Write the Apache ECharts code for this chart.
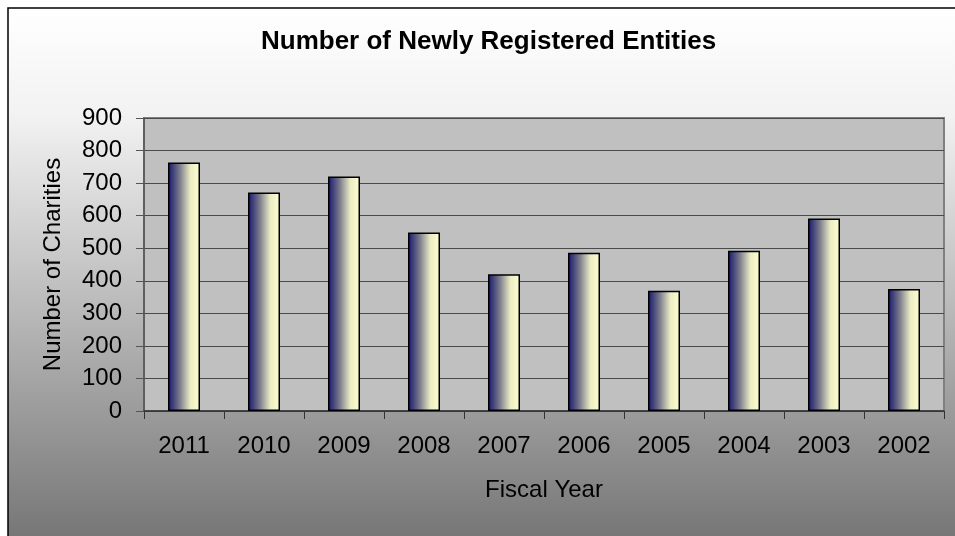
<!DOCTYPE html>
<html>
<head>
<meta charset="utf-8">
<script src="https://cdn.jsdelivr.net/npm/echarts@6/dist/echarts.min.js"></script>
<style>
  html, body { margin: 0; padding: 0; background: #fff; }
  #chart { width: 955px; height: 536px; }
</style>
</head>
<body>
<div id="chart"></div>
<script>
// fiscal years (left to right as in the picture)
var years = ["2011", "2010", "2009", "2008", "2007", "2006", "2005", "2004", "2003", "2002"];
// newly registered charities per year
var charities = [763, 671, 720, 548, 420, 486, 369, 492, 591, 375];

var font = "'Liberation Sans', Arial, sans-serif";

// bar fill: navy on the left fading to pale yellow on the right
var barFill = new echarts.graphic.LinearGradient(0, 0, 1, 0, [
  { offset: 0, color: "#16166e" },
  { offset: 0.35, color: "#76768a" },
  { offset: 0.7, color: "#ececc4" },
  { offset: 1, color: "#ffffd2" }
]);

var option = {
  backgroundColor: "#fff",
  animation: false,
  graphic: [
    {
      type: "rect",
      z: -10,
      shape: { x: 8, y: 8, width: 960, height: 540 },
      style: {
        fill: new echarts.graphic.LinearGradient(0, 0, 0, 1, [
          { offset: 0, color: "#ffffff" },
          { offset: 0.2, color: "#f2f2f2" },
          { offset: 1, color: "#737373" }
        ]),
        stroke: "#000",
        lineWidth: 1.5
      }
    }
  ],
  title: {
    text: "Number of Newly Registered Entities",
    left: 256,
    top: 24,
    textStyle: {
      color: "#000",
      fontFamily: font,
      fontSize: 26,
      fontWeight: "bold"
    }
  },
  grid: {
    show: true,
    left: 144,
    right: 11,
    top: 118,
    bottom: 125,
    backgroundColor: "#c0c0c0",
    borderColor: "#808080",
    borderWidth: 2
  },
  xAxis: {
    type: "category",
    data: years,
    name: "Fiscal Year",
    nameLocation: "middle",
    nameGap: 67,
    nameTextStyle: { color: "#000", fontFamily: font, fontSize: 24 },
    axisLine: { lineStyle: { color: "#333", width: 1.5 } },
    axisTick: { show: true, length: 8, lineStyle: { color: "#333" } },
    axisLabel: { color: "#000", fontFamily: font, fontSize: 24, margin: 23 }
  },
  yAxis: {
    type: "value",
    min: 0,
    max: 900,
    interval: 100,
    name: "Number of Charities",
    nameLocation: "middle",
    nameGap: 79,
    nameTextStyle: { color: "#000", fontFamily: font, fontSize: 24 },
    axisLine: { show: true, lineStyle: { color: "#555", width: 1.5 } },
    axisTick: { show: true, length: 8, lineStyle: { color: "#555" } },
    axisLabel: { color: "#000", fontFamily: font, fontSize: 24, margin: 22 },
    splitLine: { show: true, lineStyle: { color: "#4a4a4a", width: 1 } }
  },
  series: [
    {
      type: "bar",
      data: charities,
      barWidth: 32,
      itemStyle: {
        color: barFill,
        borderColor: "#000",
        borderWidth: 1.5
      }
    }
  ]
};

var chartObj = echarts.init(document.getElementById("chart"));
chartObj.setOption(option);
window.addEventListener("resize", function () { chartObj.resize(); });
</script>
</body>
</html>
